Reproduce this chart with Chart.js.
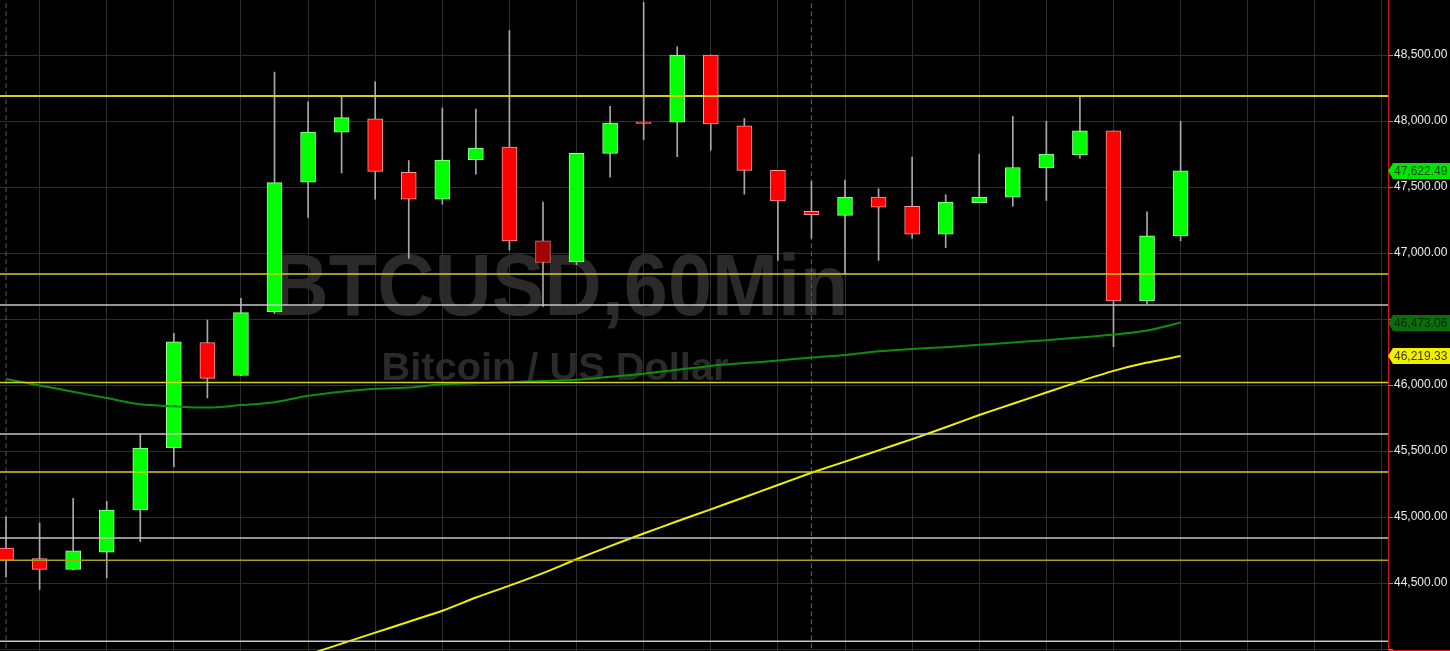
<!DOCTYPE html>
<html>
<head>
<meta charset="utf-8">
<title>BTCUSD 60Min</title>
<script src="https://cdn.jsdelivr.net/npm/chart.js@4.4.1/dist/chart.umd.min.js"></script>
<style>
    html, body { margin: 0; padding: 0; background: #000; overflow: hidden; }
    canvas { display: block; }
</style>
</head>
<body>
<canvas id="btcChart" width="1450" height="651"></canvas>
<script>
// candle slots (one per hour)
const candleIndex = [0, 1, 2, 3, 4, 5, 6, 7, 8, 9, 10, 11, 12, 13, 14, 15, 16, 17,
                     18, 19, 20, 21, 22, 23, 24, 25, 26, 27, 28, 29, 30, 31, 32, 33, 34, 35];

const opens  = [44765, 44686, 44604, 44734, 45053, 45523, 46322, 46072, 46555, 47537, 47916, 48017,
                47612, 47408, 47708, 47802, 47092, 46934, 47755, 47992, 47992, 48500, 47963, 47626,
                47316, 47285, 47423, 47354, 47142, 47382, 47423, 47644, 47745, 47925, 46637, 47130];
const highs  = [45002, 44955, 45141, 45119, 45624, 46391, 46492, 46656, 48371, 48146, 48184, 48298,
                47701, 48099, 48090, 48686, 47386, 47755, 48112, 48900, 48563, 48500, 48020, 47626,
                47543, 47553, 47487, 47727, 47442, 47749, 48036, 47998, 48191, 47925, 47313, 47998];
const lows   = [44544, 44450, 44600, 44538, 44813, 45381, 45902, 46070, 46540, 47269, 47607, 47408,
                46959, 47370, 47597, 47023, 46596, 46912, 47575, 47859, 47730, 47780, 47446, 46944,
                47111, 46839, 46944, 47111, 47041, 47380, 47354, 47398, 47717, 46290, 46612, 47092];
const closes = [44671, 44604, 44743, 45053, 45523, 46328, 46050, 46549, 47534, 47916, 48026, 47619,
                47408, 47704, 47796, 47092, 46928, 47755, 47985, 47982, 48500, 47979, 47626, 47395,
                47291, 47423, 47348, 47142, 47386, 47423, 47648, 47749, 47925, 46637, 47130, 47622.49];

// moving averages
const greenMa  = [46045, 45997, 45949, 45902, 45854, 45839, 45829, 45848, 45870, 45918, 45949, 45971,
                  45981, 46006, 46014, 46022, 46030, 46040, 46062, 46085, 46116, 46145, 46166, 46185,
                  46208, 46228, 46255, 46273, 46287, 46305, 46322, 46340, 46360, 46382, 46413, 46473.06];
const yellowMa = [null, null, null, null, null, null, null, null, null, 43957, 44041, 44124,
                  44207, 44290, 44390, 44480, 44575, 44680, 44780, 44875, 44968, 45058, 45150, 45243,
                  45335, 45420, 45505, 45590, 45680, 45773, 45858, 45943, 46028, 46107, 46170, 46219.33];

// horizontal support / resistance levels
const levelPrices = [48190, 46841, 46606, 46019, 45629, 45341, 44841, 44672, 44058];
const levelKinds  = ['y', 'y', 'w', 'y', 'w', 'y', 'w', 'o', 'w'];

// day separators (dashed)
const sessionBreaks = [0, 24];

// right axis
const priceTicks = [44000, 44500, 45000, 45500, 46000, 46500, 47000, 47500, 48000, 48500];
const priceMin = 43985;
const priceMax = 48917;
const slotMin = -0.18;
const slotMax = 41.18;

const darkCandles = [16];
const levelColors = { y: '#d2d21c', w: '#c6c6c6', o: '#aaa214' };

function fmt(v) {
    return v.toLocaleString('en-US', { minimumFractionDigits: 2, maximumFractionDigits: 2 });
}

const tagValues = [yellowMa[yellowMa.length - 1], greenMa[greenMa.length - 1], closes[closes.length - 1]];

const bodyColors = candleIndex.map(i => {
    if (closes[i] >= opens[i]) return '#00ff00';
    return darkCandles.includes(i) ? '#a30000' : '#ff0000';
});
const bodyBorders = candleIndex.map(i => {
    if (closes[i] >= opens[i]) return '#9cff9c';
    return darkCandles.includes(i) ? '#e07070' : '#ff9a9a';
});

const datasets = [];

levelPrices.forEach((p, i) => {
    datasets.push({
        type: 'line',
        data: [{ x: slotMin - 1, y: p }, { x: slotMax + 1, y: p }],
        borderColor: levelColors[levelKinds[i]],
        borderWidth: i === 0 ? 2 : 1.5,
        pointRadius: 0,
        order: 0
    });
});

datasets.push({
    type: 'line',
    data: candleIndex.map(i => ({ x: i, y: yellowMa[i] })),
    borderColor: '#f2f200',
    borderWidth: 2,
    pointRadius: 0,
    tension: 0.2,
    order: 1
});
datasets.push({
    type: 'line',
    data: candleIndex.map(i => ({ x: i, y: greenMa[i] })),
    borderColor: '#0e8e0e',
    borderWidth: 2,
    pointRadius: 0,
    tension: 0.3,
    order: 1
});

// candle bodies
datasets.push({
    type: 'bar',
    data: candleIndex.map(i => ({ x: i, y: [opens[i], closes[i]] })),
    backgroundColor: bodyColors,
    borderColor: bodyBorders,
    borderWidth: 1,
    borderSkipped: false,
    barThickness: 15,
    grouped: false,
    order: 2
});
// wicks
datasets.push({
    type: 'bar',
    data: candleIndex.map(i => ({ x: i, y: [lows[i], highs[i]] })),
    backgroundColor: '#a8a8a8',
    borderWidth: 0,
    barThickness: 1,
    grouped: false,
    order: 3
});

sessionBreaks.forEach(s => {
    datasets.push({
        type: 'line',
        data: [{ x: s, y: priceMin - 100 }, { x: s, y: priceMax + 100 }],
        borderColor: '#5c5c5c',
        borderWidth: 1,
        borderDash: [5, 3],
        pointRadius: 0,
        order: 4
    });
});

const backdrop = {
    id: 'backdrop',
    beforeDraw(chart) {
        const ctx = chart.ctx;
        ctx.save();
        ctx.fillStyle = '#000';
        ctx.fillRect(0, 0, chart.width, chart.height);
        ctx.fillStyle = '#2a2a2a';
        ctx.textAlign = 'center';
        ctx.textBaseline = 'alphabetic';

        ctx.font = 'bold 88px "Liberation Sans", Arial, sans-serif';
        let t = 'BTCUSD,60Min';
        let w = ctx.measureText(t).width;
        ctx.save();
        ctx.translate(560, 315);
        ctx.scale(577 / w, 1);
        ctx.fillText(t, 0, 0);
        ctx.restore();

        ctx.font = 'bold 38px "Liberation Sans", Arial, sans-serif';
        t = 'Bitcoin / US Dollar';
        w = ctx.measureText(t).width;
        ctx.save();
        ctx.translate(555, 380);
        ctx.scale(347 / w, 1);
        ctx.fillText(t, 0, 0);
        ctx.restore();
        ctx.restore();
    }
};

const priceTags = {
    id: 'priceTags',
    afterDraw(chart) {
        const ctx = chart.ctx;
        const y = chart.scales.y;
        const left = chart.chartArea.right;
        const tagStyles = [
            { bg: '#f0f000', fg: '#3a3a00' },
            { bg: '#0a6e0a', fg: '#042804' },
            { bg: '#00e600', fg: '#064806' }
        ];
        ctx.save();
        // bottom edge of the price panel
        ctx.strokeStyle = '#d41818';
        ctx.lineWidth = 1;
        ctx.beginPath();
        ctx.moveTo(left, chart.height - 0.5);
        ctx.lineTo(chart.width, chart.height - 0.5);
        ctx.stroke();

        ctx.font = '12px "Liberation Sans", Arial, sans-serif';
        ctx.textBaseline = 'middle';
        ctx.textAlign = 'left';
        tagValues.forEach((v, i) => {
            const cy = Math.round(y.getPixelForValue(v));
            ctx.fillStyle = tagStyles[i].bg;
            ctx.beginPath();
            ctx.moveTo(left, cy);
            ctx.lineTo(left + 5, cy - 8);
            ctx.lineTo(chart.width, cy - 8);
            ctx.lineTo(chart.width, cy + 8);
            ctx.lineTo(left + 5, cy + 8);
            ctx.closePath();
            ctx.fill();
            ctx.fillStyle = tagStyles[i].fg;
            ctx.fillText(fmt(v), left + 6, cy + 1);
        });
        ctx.restore();
    }
};

Chart.defaults.font.family = '"Liberation Sans", Arial, sans-serif';

new Chart(document.getElementById('btcChart'), {
    type: 'bar',
    data: { datasets },
    options: {
        responsive: false,
        animation: false,
        layout: { padding: 0 },
        plugins: {
            legend: { display: false },
            tooltip: { enabled: false }
        },
        scales: {
            x: {
                type: 'linear',
                min: slotMin,
                max: slotMax,
                offset: false,
                afterBuildTicks: s => { s.ticks = [1, 3, 5, 7, 9, 11, 13, 15, 17, 19, 21, 23, 25, 27, 29, 31, 33, 35, 37, 39, 41].map(v => ({ value: v })); },
                afterFit: s => { s.height = 0; s.paddingLeft = 0; s.paddingRight = 0; },
                ticks: { display: false },
                grid: { color: '#2e2e2e', offset: false, drawTicks: false },
                border: { display: false }
            },
            y: {
                type: 'linear',
                position: 'right',
                min: priceMin,
                max: priceMax,
                afterBuildTicks: s => { s.ticks = priceTicks.map(v => ({ value: v })); },
                afterFit: s => { s.width = 62; s.paddingTop = 0; s.paddingBottom = 0; },
                ticks: {
                    color: '#ececec',
                    font: { size: 12 },
                    padding: 1,
                    // labels hidden where a price tag sits on top of them
                    callback: v => (v === priceTicks[0] || tagValues.some(t => Math.abs(t - v) < 90) ? '' : fmt(v))
                },
                grid: { color: '#2e2e2e', tickColor: '#8a8a8a', tickLength: 5 },
                border: { color: '#d41818', width: 1 }
            }
        }
    },
    plugins: [backdrop, priceTags]
});
</script>
</body>
</html>
